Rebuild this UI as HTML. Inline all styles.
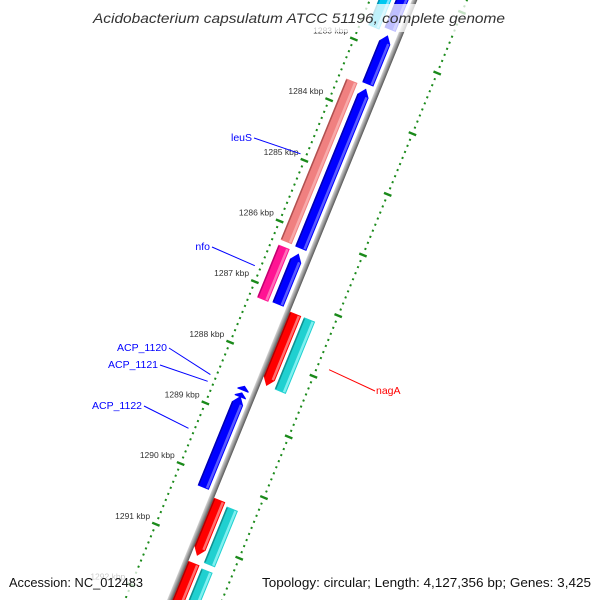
<!DOCTYPE html>
<html><head><meta charset="utf-8"><style>
html,body{margin:0;padding:0;background:#fff;overflow:hidden;width:600px;height:600px;}
svg{display:block;overflow:hidden;font-family:"Liberation Sans","DejaVu Sans",sans-serif;}
</style></head><body>
<svg id="map" width="600" height="600" viewBox="0 0 600 600" xmlns="http://www.w3.org/2000/svg">
<defs>
<linearGradient id="bb" x1="0" x2="1" y1="0" y2="0">
<stop offset="0" stop-color="#d8d8d8"/><stop offset="0.5" stop-color="#999"/><stop offset="1" stop-color="#555"/>
</linearGradient>
<clipPath id="frame"><rect x="0" y="0" width="600" height="600"/></clipPath>
</defs>
<g clip-path="url(#frame)">
<g id="rot" transform="translate(413,0) rotate(22.2)"></g>
<g id="labels"></g>
</g>
<rect x="88" y="4" width="384" height="28" fill="#fff" fill-opacity="0.75"/>
<text x="299" y="23" text-anchor="middle" font-size="14" font-style="italic" fill="#333" textLength="412" lengthAdjust="spacingAndGlyphs">Acidobacterium capsulatum ATCC 51196, complete genome</text>
<rect x="4" y="568" width="146" height="28" fill="#fff" fill-opacity="0.75"/>
<rect x="256" y="568" width="340" height="28" fill="#fff" fill-opacity="0.75"/>
<text x="9" y="587" font-size="12.5" fill="#111" textLength="134" lengthAdjust="spacingAndGlyphs">Accession: NC_012483</text>
<text x="591" y="587" text-anchor="end" font-size="12.5" fill="#111" textLength="329" lengthAdjust="spacingAndGlyphs">Topology: circular; Length: 4,127,356 bp; Genes: 3,425</text>
</svg>
<script>
// data
const geneNames = ["blue-a","cyan-a","blue-b","blue-c","leuS","nfo","blue-d","nagA","cyan-b","ACP_1120","ACP_1121","ACP_1122","red-c","cyan-c","red-d","cyan-d"];
const geneStart = [1281.6,1281.6,1282.75,1283.63,1283.60,1286.34,1286.35,1287.22,1287.22,1288.53,1288.64,1288.70,1290.29,1290.34,1291.33,1291.36];
const geneEnd   = [1282.66,1282.72,1283.56,1286.27,1286.26,1287.21,1287.19,1288.41,1288.41,1288.61,1288.72,1290.21,1291.21,1291.27,1293.0,1293.0];
const geneTrack = [1,0,1,1,0,0,1,2,3,1,1,1,2,3,2,3];
const geneDir   = [-1,0,-1,-1,0,0,-1,1,0,-1,-1,-1,1,0,1,0];
const geneColor = ["#0000ff","#00c8f0","#0000ff","#0000ff","#f08080","#ff1493","#0000ff","#ff0000","#20d0d0","#0000ff","#0000ff","#0000ff","#ff0000","#20d0d0","#ff0000","#20d0d0"];
const tickStart = 1281.5, tickEnd = 1292.6;
const majorTicks = [1282,1283,1284,1285,1286,1287,1288,1289,1290,1291,1292];
const labelledGenes = ["leuS","nfo","ACP_1120","ACP_1121","ACP_1122","nagA"];

const NS="http://www.w3.org/2000/svg";
const S0=124, SK=65.5;
function sOf(k){return S0+(k-1284)*SK;}
function P(k,t){const s=sOf(k);return [413+0.926*t-0.378*s, 0.378*t+0.926*s];}
const trackT=[[-32,-20],[-16,-4],[4,16],[19,31]];
const rot=document.getElementById('rot'), lab=document.getElementById('labels');
function mk(tag,attrs,parent){const e=document.createElementNS(NS,tag);for(const k in attrs)e.setAttribute(k,attrs[k]);parent.appendChild(e);return e;}

// backbone
const bb=mk('rect',{x:-1,y:-30,width:5,height:700,fill:'url(#bb)'},rot);



// ticks
for(let i=0;;i++){const k=tickStart+i*0.1;if(k>tickEnd)break;
 const kr=Math.round(k*10)/10, major=Math.abs(kr-Math.round(kr))<1e-6;
 const s=sOf(kr);
 [-40,50].forEach(c=>{
  const r=mk('rect',major?{x:c-4,y:s-1.2,width:8,height:2.4,fill:'#1a8a1a'}:{x:c-1,y:s-1,width:2,height:2,fill:'#1a8a1a'},rot);
  
  
 });
}
majorTicks.forEach(k=>{const p=P(k,-44);
 const t=mk('text',{x:(p[0]-2).toFixed(1),y:(p[1]-4).toFixed(1),'text-anchor':'end','font-size':'8.5',fill:'#333'},lab);
 t.textContent=k+' kbp';
 
 
});

// genes
function lighten(c){return {"#0000ff":"#5a5aff","#00c8f0":"#80e4ff","#f08080":"#f8aaaa","#ff1493":"#ff70b8","#ff0000":"#ff7070","#20d0d0":"#80f0f0"}[c]||c;}
function darken(c){return {"#0000ff":"#0000b0","#00c8f0":"#0090b0","#f08080":"#b05050","#ff1493":"#c00070","#ff0000":"#b00000","#20d0d0":"#109090"}[c]||c;}
geneNames.forEach((n,i)=>{
 const a=sOf(geneStart[i]), b=sOf(geneEnd[i]); const [t0,t1]=trackT[geneTrack[i]];
 const tm=(t0+t1)/2, ah=Math.min(8,(b-a)*0.8);
 let pts;
 if(geneDir[i]<0) pts=[[tm,a],[t1,a+ah],[t1,b],[t0,b],[t0,a+ah]];
 else if(geneDir[i]>0) pts=[[t0,a],[t1,a],[t1,b-ah],[tm,b],[t0,b-ah]];
 else pts=[[t0,a],[t1,a],[t1,b],[t0,b]];
 const g=mk('g',{},rot);
 
 
 mk('polygon',{points:pts.map(p=>p.join(',')).join(' '),fill:geneColor[i]},g);
 if(b-a>12){
  const sa=a+(geneDir[i]<0?ah:1), sb=b-(geneDir[i]>0?ah:1);
  mk('rect',{x:t0,y:sa,width:1.5,height:Math.max(0,sb-sa),fill:darken(geneColor[i])},g);
  mk('rect',{x:t1-3.5,y:sa,width:2.5,height:Math.max(0,sb-sa),fill:lighten(geneColor[i])},g);
 }
});

// gene labels
const labelText=[[252,141,'end','#0000ff'],[210,250,'end','#0000ff'],[167,351,'end','#0000ff'],[158,368,'end','#0000ff'],[142,409,'end','#0000ff'],[376,394,'start','#ff0000']];
labelledGenes.forEach((n,j)=>{
 const i=geneNames.indexOf(n); const mid=(geneStart[i]+geneEnd[i])/2;
 const side=geneTrack[i]>=2?62:-46;
 const e=P(mid,side); const L=labelText[j];
 const lx=L[2]==='end'?L[0]+2:L[0]-1;
 const ln=mk('line',{x1:lx,y1:L[1]-3,x2:e[0].toFixed(1),y2:e[1].toFixed(1),stroke:L[3],'stroke-width':1},lab);
 
 
 const tx=mk('text',{x:L[0],y:L[1],'text-anchor':L[2],'font-size':'10.5',fill:L[3]},lab);
 tx.textContent=n;
 
 
});
</script>
</body></html>
